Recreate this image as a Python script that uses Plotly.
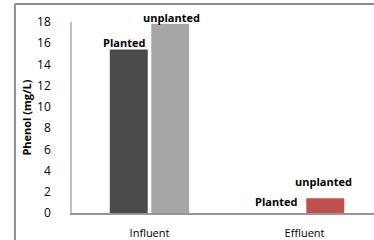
import plotly.graph_objects as go

categories = ["Influent", "Effluent"]
planted = [15.4, 0.0]
unplanted = [17.8, 1.4]
planted_labels = ["Planted", "Planted"]
unplanted_labels = ["unplanted", "unplanted"]
y_ticks = list(range(0, 19, 2))

font_family = "'Open Sans', Lato, sans-serif"
label_font = dict(family=font_family, size=11, color="#000000")

fig = go.Figure()
fig.add_trace(go.Bar(
    x=categories, y=planted, name="Planted",
    marker=dict(color=["#4a4a4a", "#c0504d"], line=dict(width=0)),
))
fig.add_trace(go.Bar(
    x=categories, y=unplanted, name="unplanted",
    marker=dict(color=["#a6a6a6", "#c0504d"], line=dict(width=0)),
))

# data labels (pixel offsets relative to each bar's top centre)
slot = 21
planted_offsets = [(-slot - 5, 7), (-slot - 8, 12)]
unplanted_offsets = [(slot + 1, 7), (slot - 2, 17)]
annotations = []
for vals, labels, offs in ((planted, planted_labels, planted_offsets),
                           (unplanted, unplanted_labels, unplanted_offsets)):
    for cat, v, lab, (dx, dy) in zip(categories, vals, labels, offs):
        annotations.append(dict(
            x=cat, y=v, xref="x", yref="y", text="<b>%s</b>" % lab,
            showarrow=False, xanchor="center", yanchor="middle",
            xshift=dx, yshift=dy, font=label_font,
        ))

fig.update_layout(
    width=374, height=240,
    margin=dict(l=72, r=0, t=22, b=27),
    paper_bgcolor="white", plot_bgcolor="rgba(0,0,0,0)",
    barmode="group", bargap=0.465, bargroupgap=0.085,
    showlegend=False,
    font=dict(family=font_family, size=11, color="#000000"),
    annotations=annotations,
    xaxis=dict(
        range=[-0.5, 1.448], showgrid=False, showline=True,
        linecolor="#969696", linewidth=1.5, ticks="", automargin=False,
        ticklabelstandoff=9, tickfont=dict(family=font_family, size=11),
    ),
    yaxis=dict(
        range=[0, 18], tickvals=y_ticks, showgrid=False, showline=True,
        linecolor="#c0c0c0", linewidth=1.5, ticks="", zeroline=False,
        automargin=False, ticklabelstandoff=17,
        tickfont=dict(family="'Liberation Sans Narrow', 'Open Sans', sans-serif", size=12),
        title=dict(text="<b>Phenol (mg/L)</b>", standoff=3,
                   font=dict(family=font_family, size=11)),
    ),
    shapes=[
        dict(type="line", xref="paper", yref="paper",
             x0=-0.189, x1=-0.189, y0=-0.2, y1=1.094,
             line=dict(color="#8c8c8c", width=2), layer="above"),
        dict(type="line", xref="paper", yref="paper",
             x0=-0.189, x1=1.05, y0=1.094, y1=1.094,
             line=dict(color="#8c8c8c", width=2), layer="above"),
    ],
)

fig.write_html(
    "out.html",
    config={"displayModeBar": False},
    post_script="document.body.style.margin='0';document.body.style.overflow='hidden';",
)
